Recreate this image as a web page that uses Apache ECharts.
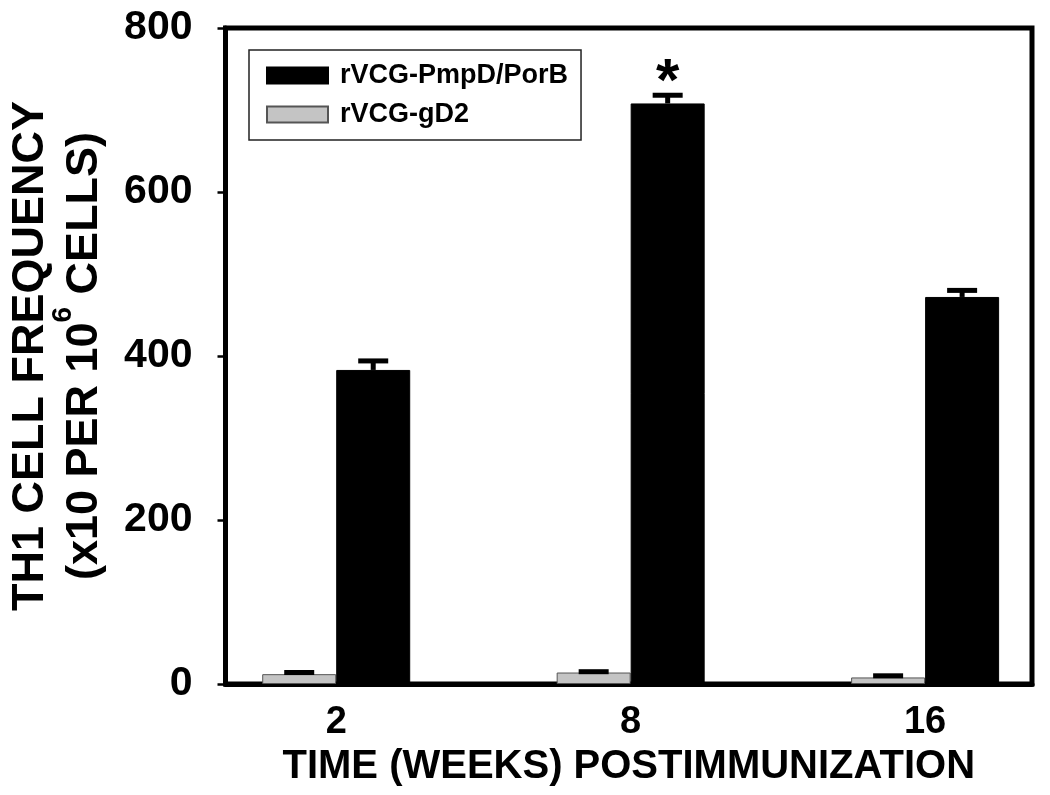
<!DOCTYPE html>
<html>
<head>
<meta charset="utf-8">
<script src="https://cdn.jsdelivr.net/npm/echarts@6/dist/echarts.min.js"></script>
<style>
  html, body { margin: 0; padding: 0; background: #ffffff; }
  #chart { width: 1050px; height: 795px; }
</style>
</head>
<body>
<div id="chart"></div>
<script>
// ---- data ----
const weeks = ['2', '8', '16'];
const seriesNames = ['rVCG-PmpD/PorB', 'rVCG-gD2'];
const pmpdValues = [383, 708, 472];
const pmpdErrors = [11, 10, 8];
const gd2Values = [12, 14, 8];
const gd2Errors = [2, 1, 2];
const significance = ['', '*', ''];
const yTicks = [0, 200, 400, 600, 800];

const FONT = '"Liberation Sans", Arial, sans-serif';
const BAR_W = 74;

function errSeries(vals, errs, offset, marks) {
  return {
    type: 'custom',
    z: 5,
    silent: true,
    encode: { x: 0, y: 1 },
    data: vals.map((v, i) => [i, v, errs[i]]),
    renderItem: function (params, api) {
      const cx = api.coord([api.value(0), 0])[0] + offset;
      const top = api.coord([api.value(0), api.value(1)])[1];
      const hi = api.coord([api.value(0), api.value(1) + api.value(2)])[1];
      const children = [
        { type: 'line', shape: { x1: cx, y1: top, x2: cx, y2: hi }, style: { stroke: '#000', lineWidth: 5 } },
        { type: 'line', shape: { x1: cx - 15, y1: hi, x2: cx + 15, y2: hi }, style: { stroke: '#000', lineWidth: 5 } }
      ];
      const m = marks ? marks[params.dataIndex] : '';
      if (m) {
        children.push({
          type: 'text',
          style: { x: cx, y: hi + 18, text: m, fill: '#000', font: 'bold 60px ' + FONT, align: 'center', verticalAlign: 'bottom' }
        });
      }
      return { type: 'group', children: children };
    }
  };
}

const chart = echarts.init(document.getElementById('chart'), null, { renderer: 'canvas' });
chart.setOption({
  backgroundColor: '#ffffff',
  animation: false,
  textStyle: { fontFamily: FONT },
  grid: {
    left: 224, right: 18, top: 28, bottom: 111,
    show: true, borderColor: '#000', borderWidth: 5, backgroundColor: 'transparent'
  },
  legend: {
    data: seriesNames,
    orient: 'vertical',
    left: 249, top: 50,
    padding: [12, 13, 12, 17],
    itemGap: 12,
    itemWidth: 61, itemHeight: 16,
    icon: 'rect',
    borderColor: '#222', borderWidth: 1.5,
    textStyle: { fontFamily: FONT, fontWeight: 'bold', fontSize: 27, color: '#000', padding: [0, 0, 0, 7] }
  },
  xAxis: {
    type: 'value',
    min: -0.376, max: 2.363,
    splitLine: { show: false },
    axisTick: { show: false },
    axisLine: { show: true, onZero: false, lineStyle: { color: '#000', width: 5 } },
    axisLabel: {
      customValues: [0, 1, 2],
      formatter: function (v) { return weeks[Math.round(v)]; },
      fontFamily: FONT, fontWeight: 'bold', fontSize: 38, color: '#000', margin: 20
    },
    name: 'TIME (WEEKS) POSTIMMUNIZATION',
    nameLocation: 'middle',
    nameGap: 62,
    nameTextStyle: { fontFamily: FONT, fontWeight: 'bold', fontSize: 40, color: '#000' }
  },
  yAxis: {
    type: 'value',
    min: 0, max: 800, interval: 200,
    splitLine: { show: false },
    axisLine: { show: true, onZero: false, lineStyle: { color: '#000', width: 5 } },
    axisTick: { show: true, length: 8, lineStyle: { color: '#000', width: 2.5 } },
    axisLabel: {
      formatter: function (v) { return yTicks.indexOf(v) >= 0 ? String(v) : ''; },
      fontFamily: FONT, fontWeight: 'bold', fontSize: 41, color: '#000', margin: 33
    },
    name: '{a|TH1 CELL FREQUENCY}\n{b|(x10 PER 10}{s|6}{b| CELLS)}',
    nameLocation: 'middle',
    nameGap: 106,
    nameTextStyle: {
      rich: {
        a: { fontFamily: FONT, fontWeight: 'bold', fontSize: 45, color: '#000', lineHeight: 38 },
        b: { fontFamily: FONT, fontWeight: 'bold', fontSize: 45, color: '#000', lineHeight: 70 },
        s: { fontFamily: FONT, fontWeight: 'bold', fontSize: 28, color: '#000', lineHeight: 34, verticalAlign: 'top' }
      }
    }
  },
  series: [
    {
      name: seriesNames[1],
      type: 'bar',
      barWidth: BAR_W,
      barGap: '0%',
      data: gd2Values.map((v, i) => [i, v]),
      itemStyle: { color: '#c4c4c4', borderColor: '#555', borderWidth: 1 }
    },
    {
      name: seriesNames[0],
      type: 'bar',
      barWidth: BAR_W,
      barGap: '0%',
      data: pmpdValues.map((v, i) => [i, v]),
      itemStyle: { color: '#000', borderColor: '#000', borderWidth: 1 }
    },
    errSeries(gd2Values, gd2Errors, -BAR_W / 2, null),
    errSeries(pmpdValues, pmpdErrors, BAR_W / 2, significance)
  ]
});
</script>
</body>
</html>
